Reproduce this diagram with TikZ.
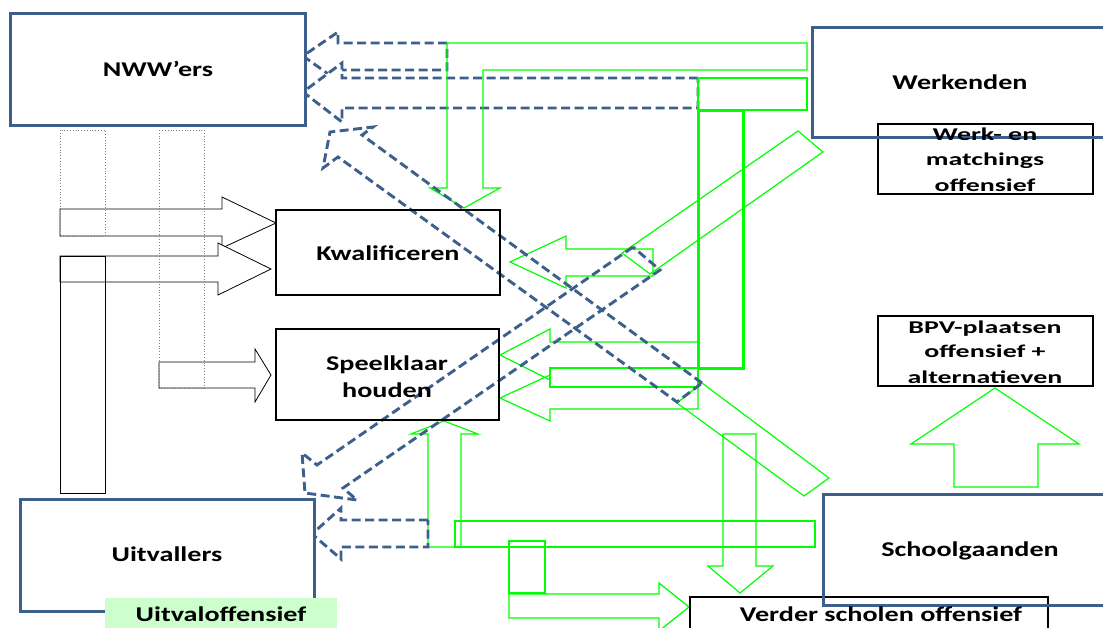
\documentclass[tikz,border=0pt]{standalone}
\usepackage{fontspec}
\setmainfont{Carlito}
\usepackage{graphicx}
\usetikzlibrary{fit}
\definecolor{boxblue}{RGB}{60,95,140}
\definecolor{arrowgreen}{RGB}{0,255,0}
\definecolor{softgreen}{RGB}{204,255,204}
\newcommand{\wa}[1]{\scalebox{1.34}[1]{#1}}
\newcommand{\wb}[1]{\scalebox{1.55}[1]{#1}}
\tikzset{
  bluebox/.style={draw=boxblue, line width=3pt, inner sep=0pt},
  blackbox/.style={draw=black, line width=1.2pt, inner sep=0pt},
  dasharrow/.style={draw=boxblue, line width=2.9pt, dash pattern=on 9pt off 4.5pt, line join=miter},
  grn/.style={draw=arrowgreen, line width=1.2pt},
  grnthick/.style={draw=arrowgreen, line width=3pt},
  blk/.style={draw=black, line width=0.8pt},
  dottedbox/.style={draw=gray, line width=0.8pt, dotted},
  lbl/.style={font=\fontsize{21}{25}\selectfont\bfseries, anchor=base, inner sep=0pt},
  lbls/.style={font=\fontsize{18}{25}\selectfont\bfseries, anchor=base, inner sep=0pt},
}
\begin{document}
\begin{tikzpicture}[x=1pt,y=-1pt]
\useasboundingbox (0,0) rectangle (1103,627);
\clip (0,0) rectangle (1103,627);

% dashed return arrows into NWW'ers (white filled, lower one on top)
\path[dasharrow, fill=white] (447,43) -- (338,43) -- (338,32) -- (303,56) -- (338,81) -- (338,70) -- (447,70) -- cycle;
\path[dasharrow, fill=white] (698,78) -- (342,78) -- (342,63) -- (303,92) -- (342,122) -- (342,108) -- (698,108) -- cycle;

% green flows
\draw[grn] (807,43) -- (447,43) -- (447,188) -- (430,188) -- (464,208) -- (500,188) -- (483,188) -- (483,70) -- (807,70) -- cycle;
\draw[grn] (698,78) rectangle (807,110);
\draw[grnthick] (698,110) rectangle (743,368);
\draw[grn] (698,342) -- (550,342) -- (550,329) -- (500,355) -- (550,380) -- (550,368) -- (698,368);
\draw[grn] (550,368) rectangle (698,387);
\draw[grn] (698,387) -- (550,387) -- (550,375) -- (500,398) -- (550,421) -- (550,409) -- (698,409) -- cycle;
\draw[grn] (677,403) -- (702,383) -- (829,478) -- (804,496) -- cycle;
\draw[grn] (622,253) -- (650,274) -- (823,152) -- (798,131) -- cycle;
\draw[grn] (653,249) -- (566,249) -- (566,236) -- (510,262) -- (566,288) -- (566,276) -- (653,276) -- cycle;
\draw[grn] (455,521) rectangle (815,547);
\draw[grn] (428,547) -- (428,434) -- (411,434) -- (444,421) -- (478,434) -- (461,434) -- (461,547) -- cycle;
\draw[grn] (509,541) rectangle (545,593);
\draw[grn] (509,594) -- (659,594) -- (659,583) -- (689,607) -- (659,631) -- (659,618) -- (509,618) -- cycle;
\draw[grn] (723,434) -- (756,434) -- (756,566) -- (773,566) -- (740,593) -- (708,566) -- (723,566) -- cycle;
\draw[grn] (954,487) -- (954,444) -- (911,444) -- (995,388) -- (1079,444) -- (1038,444) -- (1038,487) -- cycle;

% dashed diagonal and lower arrows
\draw[dasharrow] (702,383) -- (362,135) -- (373,127) -- (330,132) -- (323,168) -- (338,157) -- (677,402) -- cycle;
\draw[dasharrow] (633,247) -- (317,465) -- (302,453) -- (305,493) -- (357,500) -- (343,488) -- (660,270) -- cycle;
\draw[dasharrow] (428,520) -- (341,520) -- (341,508) -- (312,534) -- (341,559) -- (341,547) -- (428,547) -- cycle;

% black arrows from the NWW'ers column
\draw[blk] (60,209) -- (222,209) -- (222,197) -- (276,223) -- (222,248) -- (222,236) -- (60,236) -- cycle;
\draw[blk, fill=white] (60,256) -- (218,256) -- (218,243) -- (271,269) -- (218,295) -- (218,282) -- (60,282) -- cycle;
\draw[blk] (159,362) -- (255,362) -- (255,349) -- (271,375) -- (255,402) -- (255,388) -- (159,388) -- cycle;
\draw[dottedbox] (60,130) rectangle (105,236);
\draw[dottedbox] (159,130) rectangle (204,388);
\draw[blk] (60,256) rectangle (105,493);

% boxes
\node[blackbox, fit={(276,210) (500,295)}] (kwal) {};
\node[blackbox, fit={(276,329) (499,420)}] (speel) {};
\node[blackbox, fit={(878,124) (1093,194)}] (werkoff) {};
\node[blackbox, fit={(878,316) (1093,386)}] (bpv) {};
\node[blackbox, fit={(690,597) (1048,640)}] (verder) {};
\node[bluebox, fill=white, fit={(10,13) (305,125)}] (nww) {};
\node[bluebox, fill=white, fit={(20,499) (314,611)}] (uitv) {};
\node[bluebox, fit={(812,27) (1130,137)}] (werk) {};
\node[bluebox, fit={(823,494) (1130,605)}] (school) {};
\node[fill=softgreen, inner sep=0pt, fit={(105,598) (337,630)}] (uitoff) {};

% labels
\node[lbl] (nwwt) at (158,76.7) {\wa{NWW’ers}};
\node[lbl] (werkt) at (960,89) {\wa{Werkenden}};
\node[lbl] (kwalt) at (388,260) {\wa{Kwalificeren}};
\node[lbl] (speelt1) at (387,370) {\wa{Speelklaar}};
\node[lbl] (speelt2) at (387,397) {\wa{houden}};
\node[lbl] (uitvt) at (167,561.7) {\wa{Uitvallers}};
\node[lbl] (schoolt) at (970,556.7) {\wa{Schoolgaanden}};
\node[lbl] (verdert) at (881,621) {\wa{Verder scholen offensief}};
\node[lbl] (uitofft) at (221,621.7) {\wa{Uitvaloffensief}};
\node[lbls] (wo1) at (985,140) {\wb{Werk- en}};
\node[lbls] (wo2) at (985,165.7) {\wb{matchings}};
\node[lbls] (wo3) at (985,191.7) {\wb{offensief}};
\node[lbls] (bpv1) at (985,333) {\wb{BPV-plaatsen}};
\node[lbls] (bpv2) at (985,357.5) {\wb{offensief +}};
\node[lbls] (bpv3) at (985,383) {\wb{alternatieven}};
\end{tikzpicture}
\end{document}
